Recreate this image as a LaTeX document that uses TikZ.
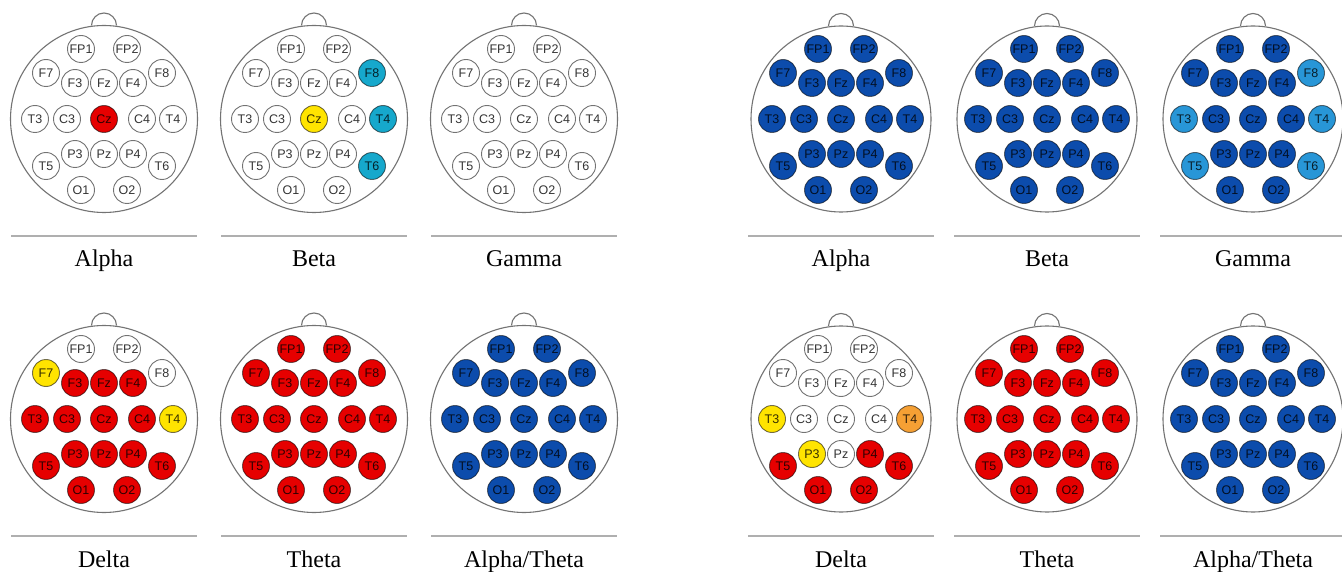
\documentclass[tikz,border=0pt]{standalone}
\usepackage{fontspec}
\setmainfont{Liberation Serif}
\newfontfamily\elecfont{Liberation Sans}
\usepackage{tikz}
\definecolor{eegred}{RGB}{230,0,0}
\definecolor{eegyellow}{RGB}{255,228,0}
\definecolor{eegcyan}{RGB}{22,168,204}
\definecolor{eegblue}{RGB}{12,76,172}
\definecolor{eeglight}{RGB}{40,150,215}
\definecolor{eegorange}{RGB}{245,160,52}
\definecolor{sepgray}{RGB}{175,175,175}

% head outline radii (changed per group)
\def\headrx{93.5}
\def\headry{93.5}

% #1 id, #2/#3 centre, #4 base fill, #5 electrode/colour overrides, #6 band
\newcommand{\headmap}[6]{%
  \begin{scope}[shift={(#2,#3)}]
    \draw[headline] (0,0) ellipse [x radius=\headrx, y radius=\headry];
    \draw[headline] (-12.5,-\headry) arc[start angle=180, end angle=360, radius=12.5];
    \if\relax\detokenize{#5}\relax\else
      \foreach \e/\c in {#5} {\expandafter\xdef\csname hc@#1@\e\endcsname{\c}}%
    \fi
    \foreach \e/\ex/\ey in {FP1/-23/-70, FP2/23/-70, F7/-58/-46, F8/58/-46,
        F3/-29/-36, Fz/0/-36, F4/29/-36,
        T3/-69/0, C3/-37/0, Cz/0/0, C4/38/0, T4/69/0,
        P3/-29/35, Pz/0/35, P4/29/35, T5/-58/47, T6/58/47,
        O1/-23/71, O2/23/71} {
      \ifcsname hc@#1@\e\endcsname
        \edef\ecol{\csname hc@#1@\e\endcsname}%
      \else
        \def\ecol{#4}%
      \fi
      \node[elec, fill=\ecol] (#1-\e) at (\ex,\ey) {\e};
    }
    \coordinate (#1-sl) at (-93,117);
    \coordinate (#1-sr) at (93,117);
    \draw[sepline] (#1-sl) -- (#1-sr);
    \node[band] (#1-band) at (0,148) {#6};
  \end{scope}
}

\begin{document}
\begin{tikzpicture}[
    x=1pt, y=-1pt,
    headline/.style={draw=black!55, line width=1.1pt},
    elec/.style={circle, draw=black, draw opacity=0.55, line width=0.9pt,
      minimum size=27pt, inner sep=0pt, text=black, text opacity=0.8,
      font=\elecfont\fontsize{12.5}{12.5}\selectfont},
    sepline/.style={draw=sepgray, line width=1.4pt},
    band/.style={font=\fontsize{24}{24}\selectfont, inner sep=0pt, anchor=base}
  ]
  \useasboundingbox[fill=white] (0,0) rectangle (1342,572);

  % -------------------------
  % left group
  % -------------------------
  \headmap{la}{104}{119}{white}{Cz/eegred}{Alpha}
  \headmap{lb}{314}{119}{white}{Cz/eegyellow, F8/eegcyan, T4/eegcyan, T6/eegcyan}{Beta}
  \headmap{lg}{524}{119}{white}{}{Gamma}
  \headmap{ld}{104}{419}{eegred}{FP1/white, FP2/white, F8/white, F7/eegyellow, T4/eegyellow}{Delta}
  \headmap{lt}{314}{419}{eegred}{}{Theta}
  \headmap{lat}{524}{419}{eegblue}{}{Alpha/Theta}

  % -------------------------
  % right group
  % -------------------------
  \def\headrx{90}
  \def\headry{93}
  \headmap{ra}{841}{119}{eegblue}{}{Alpha}
  \headmap{rb}{1047}{119}{eegblue}{}{Beta}
  \headmap{rg}{1253}{119}{eegblue}{F8/eeglight, T3/eeglight, T4/eeglight, T5/eeglight, T6/eeglight}{Gamma}
  \headmap{rd}{841}{419}{white}{T3/eegyellow, P3/eegyellow, T4/eegorange, T5/eegred, P4/eegred, T6/eegred, O1/eegred, O2/eegred}{Delta}
  \headmap{rt}{1047}{419}{eegred}{}{Theta}
  \headmap{rat}{1253}{419}{eegblue}{}{Alpha/Theta}

\end{tikzpicture}
\end{document}
